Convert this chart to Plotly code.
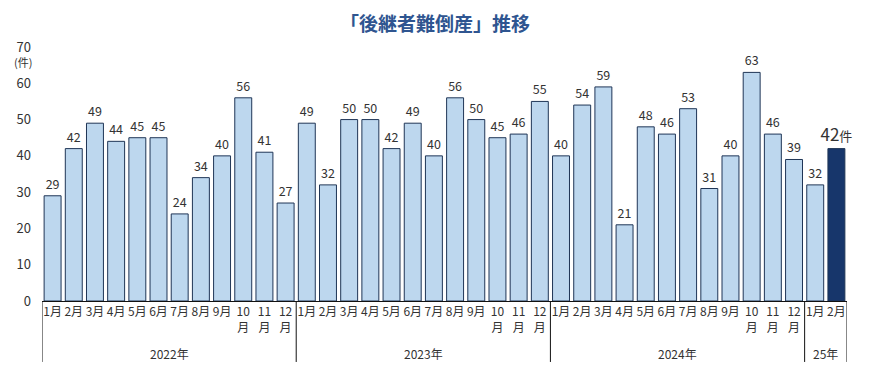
import plotly.graph_objects as go

years = ["2022年", "2023年", "2024年", "25年"]
months_per_year = [12, 12, 12, 2]
values = [29, 42, 49, 44, 45, 45, 24, 34, 40, 56, 41, 27,
          49, 32, 50, 50, 42, 49, 40, 56, 50, 45, 46, 55,
          40, 54, 59, 21, 48, 46, 53, 31, 40, 63, 46, 39,
          32, 42]

month_labels = []
for n in months_per_year:
    for m in range(1, n + 1):
        month_labels.append(f"{m}月" if m < 10 else f"{m}<br>月")

n = len(values)
x = list(range(n))
FONT = "Noto Sans CJK JP"
light = "#BDD7EE"
dark = "#17366B"
edge = "#1F3556"

colors = [light] * (n - 1) + [dark]
texts = [str(v) for v in values[:-1]] + [f"{values[-1]}<span style='font-size:13px'>件</span>"]
sizes = [12.5] * (n - 1) + [17]

fig = go.Figure()
fig.add_trace(go.Bar(
    x=x, y=values,
    marker=dict(color=colors, line=dict(color=edge, width=1)),
    text=texts, textposition="outside", cliponaxis=False, constraintext="none",
    textfont=dict(family=FONT, size=sizes, color="#333333"),
    hoverinfo="skip",
))

shapes = []
annotations = []
start = 0
bounds = [-0.5]
for yr, cnt in zip(years, months_per_year):
    end = start + cnt
    bounds.append(end - 0.5)
    annotations.append(dict(
        x=(start + end - 1) / 2, y=-0.205, xref="x", yref="paper",
        text=yr, showarrow=False, font=dict(family=FONT, size=12, color="#333333"),
        yanchor="middle", xanchor="center"))
    start = end
for b in bounds:
    shapes.append(dict(type="line", xref="x", yref="paper", x0=b, x1=b, y0=0, y1=-0.24,
                       line=dict(color="#111111", width=1)))

annotations.append(dict(x=0, xref="paper", xanchor="right", xshift=-8, y=66, yref="y",
                        text="(件)", showarrow=False, font=dict(family=FONT, size=11, color="#333333")))

fig.update_layout(
    width=870, height=381,
    margin=dict(l=42, r=23, t=47, b=80),
    paper_bgcolor="white", plot_bgcolor="white",
    showlegend=False,
    bargap=0.2,
    title=dict(text="<b>「後継者難倒産」推移</b>", x=0.5, xanchor="center", y=0.935, yanchor="middle",
               font=dict(family=FONT, size=19, color="#2F5590")),
    xaxis=dict(range=[-0.5, n - 0.5], tickmode="array", tickvals=x, ticktext=month_labels,
               tickangle=0, showline=True, linecolor="#111111", linewidth=1, ticks="",
               showgrid=False, zeroline=False,
               tickfont=dict(family=FONT, size=12, color="#333333")),
    yaxis=dict(range=[0, 70], tickmode="linear", dtick=10, showgrid=False, zeroline=False,
               showline=False, ticks="", ticklabelstandoff=10,
               tickfont=dict(family=FONT, size=13, color="#333333")),
    shapes=shapes, annotations=annotations,
)
fig.write_html("out.html")
